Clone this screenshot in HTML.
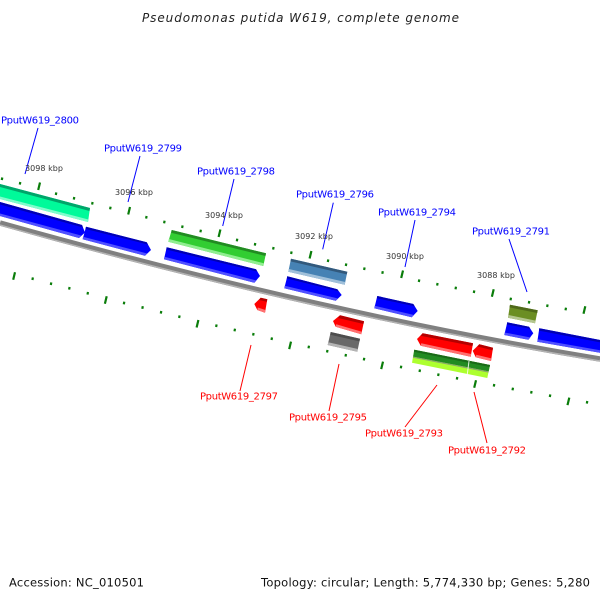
<!DOCTYPE html>
<html><head><meta charset="utf-8"><style>
html,body{margin:0;padding:0;background:#fff}
svg{display:block}
text{font-family:"DejaVu Sans","Liberation Sans",sans-serif}
.b{fill:#0000ff;font-size:10px}
.r{fill:#ff0000;font-size:10px}
.k{fill:#333;font-size:8px}
.f{fill:#111;font-size:11.5px}
</style></head><body>
<svg width="600" height="600" viewBox="0 0 600 600" xmlns="http://www.w3.org/2000/svg">
<rect width="600" height="600" fill="#fff"/>
<text x="142" y="22" font-size="12" font-style="italic" fill="#222" textLength="317" lengthAdjust="spacing">Pseudomonas putida W619, complete genome</text>

<!-- backbone -->
<path d="M0 223 Q320 313 600 359" fill="none" stroke="#808080" stroke-width="5.5"/>
<path d="M0 225 Q320 315 600 361" fill="none" stroke="#b4b4b4" stroke-width="1.4"/>

<!-- ticks -->
<path fill="none" stroke="#0a7d0a" stroke-width="2.2" d="
M2.3 177.5l-.5 2.6M20.3 182l-.5 2.6M56.3 192.4l-.5 2.6M74.3 197l-.5 2.6M92.6 202l-.5 2.6M110.6 206.7l-.5 2.6M146.6 216l-.5 2.6M164.6 220.7l-.5 2.6M182.6 225.4l-.5 2.6M200.9 229.7l-.5 2.6M237.3 238.7l-.5 2.6M255.3 243l-.5 2.6M273.6 247l-.5 2.6M291.6 251.4l-.5 2.6M328.3 259.4l-.5 2.6M346.3 263.4l-.5 2.6M364.6 267.4l-.5 2.6M382.8 271.2l-.5 2.6M419.3 279.4l-.5 2.6M437.6 283l-.5 2.6M456 286.7l-.5 2.6M474.3 290.4l-.5 2.6M511 297.7l-.5 2.6M529.3 301l-.5 2.6M547.6 304.4l-.5 2.6M566 307.7l-.5 2.6
M32.9 277.4l-.5 2.6M51.3 282.4l-.5 2.6M69.6 287l-.5 2.6M88 292l-.5 2.6M124.3 301.7l-.5 2.6M142.8 306.2l-.5 2.6M161.3 311l-.5 2.6M179.6 315.4l-.5 2.6M216.6 324.4l-.5 2.6M235 328.7l-.5 2.6M253.6 333l-.5 2.6M272 337.4l-.5 2.6M309 345.7l-.5 2.6M327.5 349.9l-.5 2.6M346 354l-.5 2.6M364.3 357.8l-.5 2.6M401.3 365.7l-.5 2.6M420 369.4l-.5 2.6M438.6 373.4l-.5 2.6M457.3 377l-.5 2.6M494.3 384l-.5 2.6M513 387.7l-.5 2.6M531.6 391l-.5 2.6M550.3 394.4l-.5 2.6M587.3 401l-.5 2.6
M40 182.5l-1.8 7.5M130 207l-1.8 7.5M220.4 229.5l-1.8 7.5M311.4 251l-1.8 7.5M403 270.5l-1.8 7.5M493.7 289.3l-1.8 7.5M585.3 306.2l-1.8 7.5
M15 272.2l-1.8 7.5M106.7 296.3l-1.8 7.5M198.4 320l-1.8 7.5M291 341.6l-1.8 7.5M383 361.6l-1.8 7.5M476 380.3l-1.8 7.5M569.3 397.6l-1.8 7.5"/>

<!-- teal -->
<polygon points="0,184 90,208 88,222 0,199" fill="#00fa9a"/>
<polygon points="0,184 90,208 89.5,211 0,187" fill="#00a56a"/>
<polygon points="0,196.5 88.4,219.5 88,222 0,199" fill="#80fccc"/>

<!-- blue genes -->
<g fill="#0000ff">
<polygon points="0,202 82,225 85,232.5 79,238 0,216"/>
<polygon points="86,226.7 146.7,242.3 151,250 145,255.7 82.7,239.3"/>
<polygon points="166.7,247.3 256,269.3 260,276 254.3,282.7 164,259.3"/>
<polygon points="287.3,276.3 337.3,289.3 341.7,295 335.7,300.7 284.3,288.3"/>
<polygon points="377.3,296 413.3,304 417.7,311 411.7,317.3 374.3,308.3"/>
<polygon points="507.3,322.3 529,326.7 533.3,333.3 528.3,339.7 504.3,335"/>
<polygon points="539.3,328.3 600,340 600,352.7 537.3,341.7"/>
</g>
<g fill="#0000b4">
<polygon points="0,202 82,225 83,227.5 0,204.5"/>
<polygon points="86,226.7 146.7,242.3 148,244.5 85.6,229"/>
<polygon points="166.7,247.3 256,269.3 257.3,271.5 166.3,249.5"/>
<polygon points="287.3,276.3 337.3,289.3 338.7,291.2 286.9,278.5"/>
<polygon points="377.3,296 413.3,304 414.7,306.2 376.9,298.3"/>
<polygon points="507.3,322.3 529,326.7 530.3,328.7 506.9,324.5"/>
<polygon points="539.3,328.3 600,340 600,342.4 539,330.6"/>
</g>
<g fill="#5050ff">
<polygon points="0,213.5 81,235.5 79,238 0,216"/>
<polygon points="83,236.8 147.2,253.5 145,255.7 82.7,239.3"/>
<polygon points="164.4,256.8 256.5,280.5 254.3,282.7 164,259.3"/>
<polygon points="284.7,285.8 338,298.5 335.7,300.7 284.3,288.3"/>
<polygon points="374.7,305.8 414,315 411.7,317.3 374.3,308.3"/>
<polygon points="504.7,332.5 530.5,337.5 528.3,339.7 504.3,335"/>
<polygon points="537.7,339.2 600,350.2 600,352.7 537.3,341.7"/>
</g>

<!-- green 2798 -->
<polygon points="171.7,230 266,253.3 263.3,266 168.3,241.7" fill="#32cd32"/>
<polygon points="171.7,230 266,253.3 265.5,256 171.2,232.7" fill="#228b22"/>
<polygon points="168.8,239 263.8,263.3 263.3,266 168.3,241.7" fill="#90ee90"/>

<!-- steel blue -->
<polygon points="291,258.7 347.3,271.7 344.7,284.7 288.3,271.7" fill="#4682b4"/>
<polygon points="291,258.7 347.3,271.7 346.8,274.4 290.5,261.4" fill="#32597c"/>
<polygon points="288.8,269 345.2,282 344.7,284.7 288.3,271.7" fill="#a0c0da"/>

<!-- olive -->
<polygon points="510,304.7 537.7,310.3 535,323.3 508,317.7" fill="#6b8e23"/>
<polygon points="510,304.7 537.7,310.3 537.2,313 509.5,307.4" fill="#4f691a"/>
<polygon points="508.5,315 535.5,320.6 535,323.3 508,317.7" fill="#b4c690"/>

<!-- red -->
<g fill="#ff0000">
<polygon points="260.7,297.7 267.3,299.3 265,312.7 257.3,310 254.3,304"/>
<polygon points="340,315.3 364,321.3 361.3,334.3 335.7,326.7 333,321"/>
<polygon points="422.7,333.3 473,343.3 470.7,356.7 420.7,345.7 417,339"/>
<polygon points="479.3,344.3 493,347.7 491,361 475.7,357.3 472.7,350.7"/>
</g>
<g fill="#b40000">
<polygon points="260.7,297.7 267.3,299.3 266.8,301.8 259,300"/>
<polygon points="340,315.3 364,321.3 363.5,324 338,318"/>
<polygon points="422.7,333.3 473,343.3 472.5,346 420.5,335.7"/>
<polygon points="479.3,344.3 493,347.7 492.6,350.2 477.3,346.5"/>
</g>
<g fill="#ff7070">
<polygon points="257.8,307.5 265.4,310 265,312.7 257.3,310"/>
<polygon points="336.2,324.2 361.8,331.7 361.3,334.3 335.7,326.7"/>
<polygon points="421.2,343.2 471.2,354 470.7,356.7 420.7,345.7"/>
<polygon points="476.2,354.8 491.4,358.4 491,361 475.7,357.3"/>
</g>

<!-- gray -->
<polygon points="330.7,332 360,338.7 357.3,351.7 327.7,345" fill="#696969"/>
<polygon points="330.7,332 360,338.7 359.5,341.4 330.2,334.7" fill="#4d4d4d"/>
<polygon points="328.2,342.3 357.8,349 357.3,351.7 327.7,345" fill="#b4b4b4"/>

<!-- dark green + yellow green -->
<polygon points="414.3,349.7 490,365 487.3,378 412,362.7" fill="#adff2f"/>
<polygon points="414.3,349.7 490,365 488.7,371.4 413.1,356.6" fill="#228b22"/>
<polygon points="414.3,349.7 490,365 489.6,367 413.9,351.7" fill="#196a19"/>
<polygon points="413.1,356.6 488.7,371.4 488.5,372.6 412.9,357.8" fill="#8aa86a"/>
<line x1="469" y1="361" x2="467.3" y2="374.5" stroke="#fff" stroke-width="1" opacity=".85"/>

<!-- leader lines -->
<g stroke="#0000ff" stroke-width="1" fill="none">
<line x1="38" y1="128" x2="25" y2="174"/>
<line x1="140" y1="156" x2="128" y2="202"/>
<line x1="234" y1="179" x2="222.7" y2="226"/>
<line x1="333.3" y1="202.7" x2="322.7" y2="249.3"/>
<line x1="415" y1="220" x2="405" y2="267"/>
<line x1="509" y1="239" x2="527" y2="292"/>
</g>
<g stroke="#ff0000" stroke-width="1" fill="none">
<line x1="251" y1="345" x2="240" y2="391"/>
<line x1="339" y1="364" x2="329" y2="411"/>
<line x1="437" y1="385" x2="405" y2="427"/>
<line x1="474" y1="392" x2="487" y2="443"/>
</g>

<!-- kbp labels -->
<text class="k" x="25" y="171" textLength="38">3098 kbp</text>
<text class="k" x="115" y="195" textLength="38">3096 kbp</text>
<text class="k" x="205" y="218" textLength="38">3094 kbp</text>
<text class="k" x="295" y="239" textLength="38">3092 kbp</text>
<text class="k" x="386" y="259" textLength="38">3090 kbp</text>
<text class="k" x="477" y="278" textLength="38">3088 kbp</text>

<!-- gene labels -->
<text class="b" x="1" y="123.5" textLength="78">PputW619_2800</text>
<text class="b" x="104" y="151.5" textLength="78">PputW619_2799</text>
<text class="b" x="197" y="174.5" textLength="78">PputW619_2798</text>
<text class="b" x="296" y="197.5" textLength="78">PputW619_2796</text>
<text class="b" x="378" y="215.5" textLength="78">PputW619_2794</text>
<text class="b" x="472" y="234.5" textLength="78">PputW619_2791</text>
<text class="r" x="200" y="399.5" textLength="78">PputW619_2797</text>
<text class="r" x="289" y="420.5" textLength="78">PputW619_2795</text>
<text class="r" x="365" y="436.5" textLength="78">PputW619_2793</text>
<text class="r" x="448" y="453.5" textLength="78">PputW619_2792</text>

<!-- footer -->
<text class="f" x="9" y="586.5" textLength="135">Accession: NC_010501</text>
<text class="f" x="261" y="586.5" textLength="329">Topology: circular; Length: 5,774,330 bp; Genes: 5,280</text>
</svg>
</body></html>
